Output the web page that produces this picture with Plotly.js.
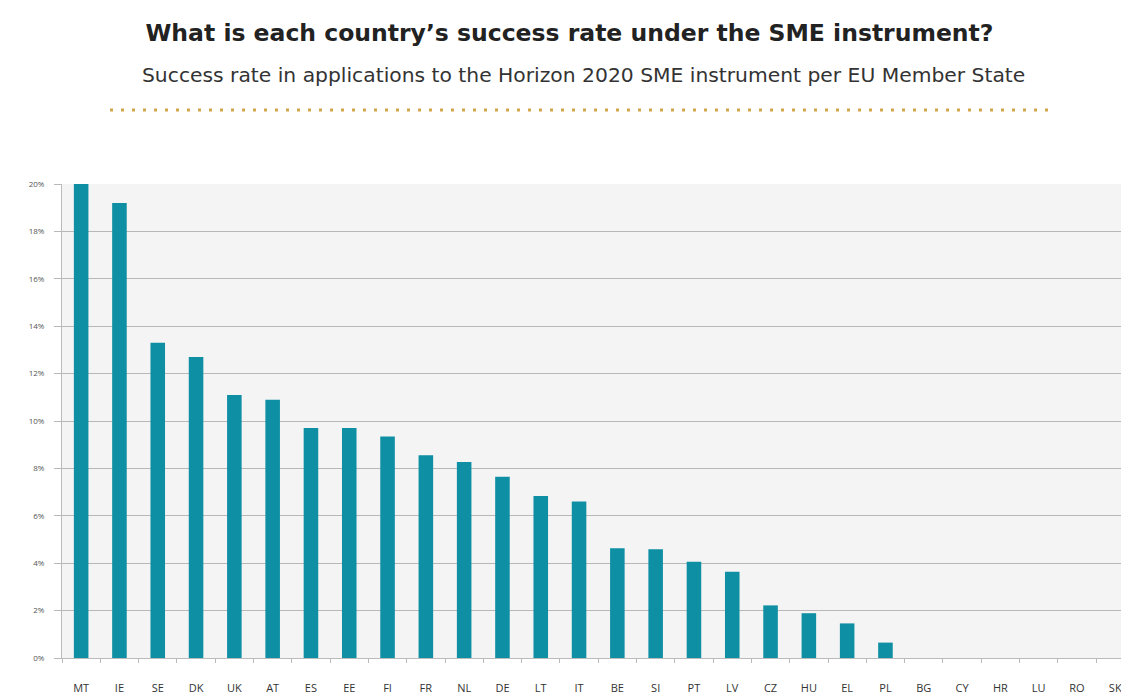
<!DOCTYPE html>
<html>
<head>
<meta charset="utf-8">
<script src="https://cdn.plot.ly/plotly-3.0.1.min.js"></script>
<style>html,body{margin:0;padding:0;background:#fff;}#chart{width:1121px;height:695px;}</style>
</head>
<body>
<div id="chart"></div>
<script>
const countries = ["MT","IE","SE","DK","UK","AT","ES","EE","FI","FR","NL","DE","LT","IT","BE","SI","PT","LV","CZ","HU","EL","PL","BG","CY","HR","LU","RO","SK"];
const successRate = [20.0,19.2,13.3,12.7,11.1,10.9,9.7,9.7,9.35,8.55,8.27,7.65,6.84,6.6,4.63,4.59,4.06,3.64,2.22,1.89,1.46,0.65,0,0,0,0,0,0];
const yTickVals = [0,2,4,6,8,10,12,14,16,18,20];
const yTickText = ["0%","2%","4%","6%","8%","10%","12%","14%","16%","18%","20%"];
const titleText = "What is each country’s success rate under the SME instrument?";
const subtitleText = "Success rate in applications to the Horizon 2020 SME instrument per EU Member State";

const trace = {
  type: "bar",
  x: countries,
  y: successRate,
  marker: {color: "#0f8fa3"},
  hoverinfo: "x+y"
};

const layout = {
  width: 1121, height: 695,
  margin: {l: 62, r: 0, t: 184, b: 37, pad: 0},
  paper_bgcolor: "#ffffff",
  plot_bgcolor: "#f4f4f4",
  bargap: 0.62,
  showlegend: false,
  font: {family: "DejaVu Sans, sans-serif", color: "#333"},
  title: {
    text: "<b>" + titleText + "</b>",
    x: 0.508, xanchor: "center",
    y: 1 - 33/695, yanchor: "middle",
    xref: "container", yref: "container",
    font: {size: 23.5, color: "#222", family: "DejaVu Sans, sans-serif"}
  },
  annotations: [{
    text: subtitleText,
    xref: "paper", yref: "paper",
    x: (583 - 62)/1059, y: (658 - 75)/474,
    xanchor: "center", yanchor: "middle",
    showarrow: false,
    font: {size: 20.3, color: "#333", family: "DejaVu Sans, sans-serif"}
  }],
  shapes: [{
    type: "line", xref: "paper", yref: "paper",
    x0: (110 - 62)/1059, x1: (1055 - 62)/1059,
    y0: (658 - 110)/474, y1: (658 - 110)/474,
    line: {color: "#d2a64c", width: 3, dash: "3px,8px"}
  }],
  xaxis: {
    type: "category",
    range: [-0.5, 27.15],
    showgrid: false,
    showline: true, linecolor: "#bbbbbb", linewidth: 1,
    ticks: "outside", tickson: "boundaries", ticklen: 4, tickcolor: "#bbbbbb",
    ticklabelstandoff: 20,
    tickfont: {size: 11, color: "#333", family: "Open Sans, sans-serif"},
    fixedrange: true
  },
  yaxis: {
    range: [0, 20],
    tickvals: yTickVals, ticktext: yTickText,
    showgrid: true, gridcolor: "#b8b8b8", gridwidth: 1,
    zeroline: false,
    showline: true, linecolor: "#bbbbbb", linewidth: 1,
    ticks: "outside", ticklen: 7, tickcolor: "#b8b8b8",
    ticklabelstandoff: 8,
    tickfont: {size: 8, color: "#555", family: "Open Sans, sans-serif"},
    fixedrange: true
  }
};

Plotly.newPlot("chart", [trace], layout, {displayModeBar: false, staticPlot: true});
</script>
</body>
</html>
